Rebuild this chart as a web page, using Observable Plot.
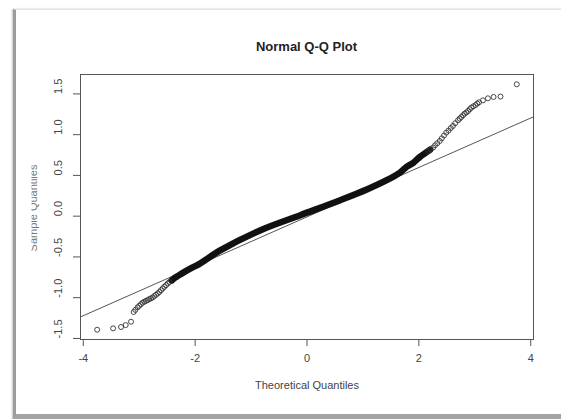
<!DOCTYPE html>
<html>
<head>
<meta charset="utf-8">
<script src="https://cdn.jsdelivr.net/npm/d3@7"></script>
<script src="https://cdn.jsdelivr.net/npm/@observablehq/plot@0.6"></script>
<style>
  html, body { margin: 0; padding: 0; background: #fff; }
  #wrap { position: relative; width: 561px; height: 419px; overflow: hidden; font-family: "Liberation Sans", Arial, sans-serif; }
  #card { position: absolute; left: 13px; top: 9px; width: 570px; height: 404px;
          border-left: 3px solid #9c9c9c; border-top: 1px solid #e4e4e4; border-bottom: 6px solid #a4a4a4;
          box-shadow: -1px 0 2px #ccc, 0 1px 2px #ccc; background: #fff; }
  #plot { position: absolute; left: 0; top: 0; }
  #title { position: absolute; left: 80px; width: 453px; top: 39px; text-align: center;
           font-weight: bold; font-size: 13px; color: #222; }
  #ylab { position: absolute; left: 0; top: 0; }
</style>
</head>
<body>
<div id="wrap">
  <div id="card"></div>
  <div id="plot"></div>
  <div id="title">Normal Q-Q Plot</div>
  <svg id="ylab" width="561" height="419">
    <defs><clipPath id="yc" clipPathUnits="userSpaceOnUse"><rect x="31.5" y="0" width="20" height="419"></rect></clipPath></defs>
    <g clip-path="url(#yc)">
      <text transform="translate(37,208) rotate(-90)" text-anchor="middle"
            font-family="Liberation Sans, Arial, sans-serif" font-size="11" fill="#777">Sample Quantiles</text>
    </g>
  </svg>
</div>
<script>
// Axis ticks and labels
const xTicks = [-4, -2, 0, 2, 4];
const xTickLabels = ["-4", "-2", "0", "2", "4"];
const yTicks = [-1.5, -1.0, -0.5, 0.0, 0.5, 1.0, 1.5];
const yTickLabels = ["-1.5", "-1.0", "-0.5", "0.0", "0.5", "1.0", "1.5"];
const xLabel = "Theoretical Quantiles";

// Dense central band of points (read along the band)
const bandX = [-2.42, -2.376, -2.256, -2.08, -1.93, -1.544, -0.83, -0.119, 0.594, 1.069, 1.425, 1.662, 1.78, 1.9, 2.02, 2.107, 2.2];
const bandY = [-0.79, -0.764, -0.711, -0.641, -0.588, -0.417, -0.172, 0.012, 0.196, 0.327, 0.441, 0.535, 0.604, 0.655, 0.727, 0.77, 0.815];

// Individually visible points in the lower tail
const lowX = [-3.752, -3.467, -3.325, -3.242, -3.147, -3.10, -3.07, -3.03, -3.0, -2.97, -2.94, -2.91, -2.88, -2.85, -2.82, -2.79, -2.76, -2.73, -2.70, -2.67, -2.64, -2.61, -2.58, -2.55, -2.52, -2.49, -2.46];
const lowY = [-1.393, -1.376, -1.360, -1.336, -1.295, -1.176, -1.15, -1.119, -1.10, -1.08, -1.062, -1.05, -1.04, -1.029, -1.018, -1.008, -0.997, -0.98, -0.965, -0.948, -0.93, -0.908, -0.886, -0.866, -0.846, -0.825, -0.808];

// Individually visible points in the upper tail
const highX = [2.17, 2.21, 2.255, 2.29, 2.33, 2.374, 2.41, 2.45, 2.49, 2.53, 2.57, 2.61, 2.65, 2.70, 2.73, 2.76, 2.79, 2.82, 2.85, 2.88, 2.91, 2.938, 2.975, 3.015, 3.045, 3.075, 3.146, 3.235, 3.336, 3.46, 3.751];
const highY = [0.80, 0.82, 0.842, 0.87, 0.895, 0.923, 0.955, 0.99, 1.025, 1.05, 1.08, 1.107, 1.14, 1.176, 1.197, 1.217, 1.238, 1.258, 1.273, 1.29, 1.312, 1.332, 1.348, 1.364, 1.381, 1.397, 1.421, 1.446, 1.462, 1.467, 1.618];

// Reference line (qqline) endpoints at the plot edges
const refX = [-4.05, 4.05];
const refY = [-1.236, 1.219];

const band = bandX.map((x, i) => ({x, y: bandY[i]}));
const tails = lowX.map((x, i) => ({x, y: lowY[i]})).concat(highX.map((x, i) => ({x, y: highY[i]})));
const ref = refX.map((x, i) => ({x, y: refY[i]}));

const chart = Plot.plot({
  width: 561,
  height: 419,
  marginLeft: 80,
  marginRight: 28,
  marginTop: 74,
  marginBottom: 80,
  style: { background: "transparent", fontFamily: "Liberation Sans, Arial, sans-serif", color: "#444", overflow: "visible" },
  x: { domain: [-4.05, 4.05] },
  y: { domain: [-1.513, 1.738] },
  marks: [
    Plot.frame({ stroke: "#555" }),
    Plot.axisX({ ticks: xTicks, tickSize: 7, tickPadding: 8, fontSize: 11, tickFormat: (d) => xTickLabels[xTicks.indexOf(d)], label: null, stroke: "#555", fill: "#444" }),
    Plot.text([xLabel], { frameAnchor: "bottom", dy: 49, text: (d) => d, fontSize: 11, fill: "#444" }),
    Plot.axisY({ ticks: yTicks, tickSize: 7, tickFormat: () => "", label: null, stroke: "#555" }),
    Plot.text(yTicks, { y: (d) => d, frameAnchor: "left", dx: -22, rotate: -90, text: (d, i) => yTickLabels[i], fontSize: 11, fill: "#444" }),
    Plot.line(ref, { x: "x", y: "y", stroke: "#555", strokeWidth: 1, clip: true }),
    Plot.line(band, { x: "x", y: "y", stroke: "#111", strokeWidth: 6.5, strokeLinecap: "round", curve: "catmull-rom" }),
    Plot.dot(tails, { x: "x", y: "y", r: 2.5, stroke: "#333", strokeWidth: 0.9, fill: "none" })
  ]
});
document.getElementById("plot").appendChild(chart);
</script>
</body>
</html>
